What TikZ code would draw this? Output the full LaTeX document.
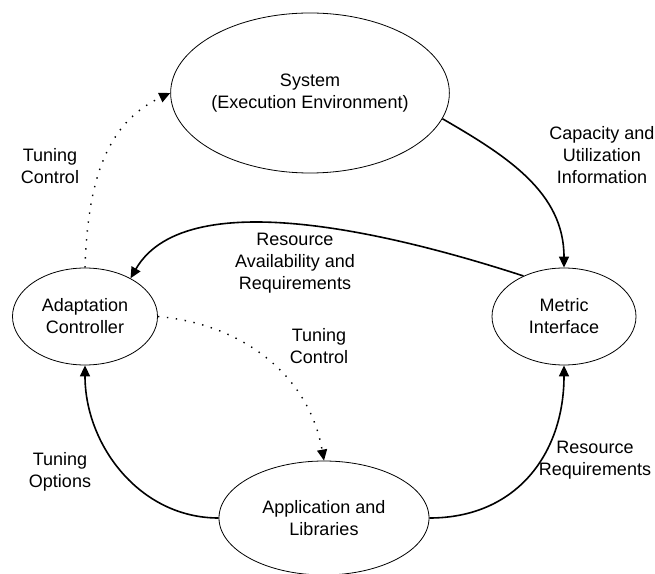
\documentclass[tikz,border=0pt]{standalone}
\usepackage{fontspec}
\setmainfont{Liberation Sans}
\usepackage{tikz}
\usetikzlibrary{arrows.meta}
\usetikzlibrary{shapes}
\tikzset{
    blob/.style={
        draw,
        ellipse,
        line width=0.8pt,
        align=center,
        inner sep=0pt,
        font=\fontsize{18}{22}\selectfont
    },
    flow/.style={
        draw,
        -{Triangle[length=11pt, width=10pt]},
        line width=1.6pt
    },
    tune/.style={
        flow,
        line width=1.4pt,
        dash pattern=on 1.4pt off 7.6pt
    },
    lbl/.style={
        align=center,
        font=\fontsize{18}{22}\selectfont
    }
}

\begin{document}
\begin{tikzpicture}[x=1pt, y=1pt]
    \useasboundingbox (0,0) rectangle (655,573);

    \node[blob, minimum width=269pt, minimum height=160pt] (S) at (310,480) {System\\(Execution Environment)};
    \node[blob, minimum width=145pt, minimum height=97pt] (AC) at (85,256.5) {Adaptation\\Controller};
    \node[blob, minimum width=144pt, minimum height=97pt] (MI) at (564,256.5) {Metric\\Interface};
    \node[blob, minimum width=210pt, minimum height=114pt] (AL) at (324,55) {Application and\\Libraries};

    \node[lbl] (tc1) at (50,407) {Tuning\\Control};
    \node[lbl] (cui) at (602,418) {Capacity and\\Utilization\\Information};
    \node[lbl] (rar) at (295,309.5) {Resource\\Availability and\\Requirements};
    \node[lbl] (tc2) at (319,226.5) {Tuning\\Control};
    \node[lbl] (to) at (60,101.5) {Tuning\\Options};
    \node[lbl] (rr) at (595,112.5) {Resource\\Requirements};

    \draw[flow] (S.-11) to[out=-30, in=90] (MI.north);
    \draw[flow] (MI.135) to[out=162, in=60, looseness=0.75] (AC.40);
    \draw[tune] (AC.north) to[out=88, in=205] (S.west);
    \draw[tune] (AC.east) to[out=-5, in=100] (AL.north);
    \draw[flow] (AL.west) to[out=180, in=-90] (AC.south);
    \draw[flow] (AL.east) to[out=0, in=-90, looseness=1.1] (MI.south);
\end{tikzpicture}
\end{document}
